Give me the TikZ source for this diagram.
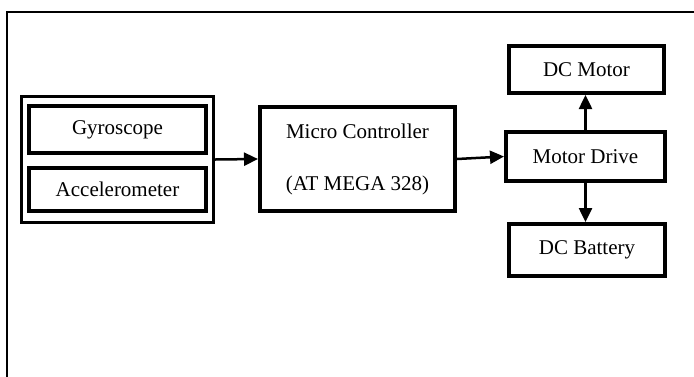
\documentclass[tikz,border=0pt]{standalone}
\usepackage{fontspec}
\setmainfont{Liberation Serif}
\usetikzlibrary{arrows.meta}
\begin{document}
\begin{tikzpicture}[x=1pt,y=-1pt,
  box/.style={draw, line width=4pt, rectangle, inner sep=0pt, font=\fontsize{21}{25}\selectfont},
  grp/.style={draw, line width=3pt, rectangle, inner sep=0pt},
  arr/.style={line width=2.5pt, -{Triangle[length=14pt,width=13pt]}}]
\useasboundingbox (0,0) rectangle (694,376);
\draw[line width=1.5pt] (7,377) -- (7,12) -- (695,12);
\node[grp, minimum width=192, minimum height=126] (group) at (117.5,159.5) {};
\node[box, minimum width=177, minimum height=47] (gyro) at (117.5,129.5) {Gyroscope};
\node[box, minimum width=177, minimum height=43] (accel) at (117.5,189.5) {Accelerometer};
\node[box, minimum width=195, minimum height=104, align=center, font=\fontsize{21}{52}\selectfont] (micro) at (357.5,159) {Micro Controller\\(AT MEGA 328)};
\node[box, minimum width=159, minimum height=49] (drive) at (585.5,156.5) {Motor Drive};
\node[box, minimum width=155, minimum height=47] (motor) at (586.5,69.5) {DC Motor};
\node[box, minimum width=156, minimum height=52] (battery) at (587,250) {DC Battery};
\draw[arr] (group.east) -- (micro.west);
\draw[arr] (micro.east) -- (drive.west);
\draw[arr] (drive.north) -- (drive.north |- motor.south);
\draw[arr] (drive.south) -- (drive.south |- battery.north);
\end{tikzpicture}
\end{document}
